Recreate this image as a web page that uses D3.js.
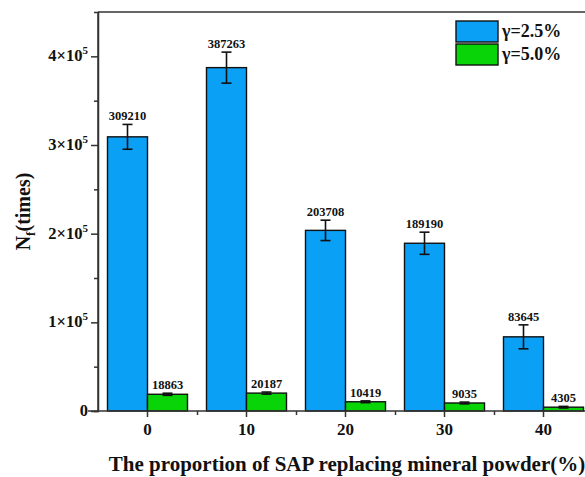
<!DOCTYPE html>
<html>
<head>
<meta charset="utf-8">
<script src="https://cdn.jsdelivr.net/npm/d3@7"></script>
<style>
  body { margin: 0; background: #fff; }
  text { font-family: "Liberation Serif", "Times New Roman", serif; font-weight: bold; }
</style>
</head>
<body>
<div id="chart"></div>
<script>
// data
const categories = ["0", "10", "20", "30", "40"];
const seriesNames = ["γ=2.5%", "γ=5.0%"];
const seriesColors = ["#0aa0f6", "#08d408"];
const valuesLow = [309210, 387263, 203708, 189190, 83645];   // γ=2.5%
const valuesHigh = [18863, 20187, 10419, 9035, 4305];        // γ=5.0%
const errLow = [14000, 17500, 11500, 12500, 13500];
const errHigh = [1200, 1200, 1000, 1000, 900];
const yTicks = [0, 100000, 200000, 300000, 400000];

const width = 585, height = 477;
const margin = { top: 12, left: 98, bottom: 66 };
const bandStep = 99;
const barW = 40;

const svg = d3.select("#chart").append("svg")
    .attr("width", width)
    .attr("height", height);

const x = d3.scaleBand()
    .domain(categories)
    .range([margin.left, margin.left + bandStep * categories.length])
    .padding(0);

const xSub = d3.scaleBand()
    .domain(seriesNames)
    .range([x.bandwidth() / 2 - barW, x.bandwidth() / 2 + barW]);

const y = d3.scaleLinear()
    .domain([0, 450000])
    .range([height - margin.bottom, margin.top]);

const rows = categories.map((c, i) => [
    { cat: c, s: seriesNames[0], v: valuesLow[i], e: errLow[i], col: seriesColors[0] },
    { cat: c, s: seriesNames[1], v: valuesHigh[i], e: errHigh[i], col: seriesColors[1] }
]).flat();

const axisColor = "#333";

// bars
svg.append("g").selectAll("rect")
    .data(rows)
    .join("rect")
    .attr("x", d => x(d.cat) + xSub(d.s))
    .attr("y", d => y(d.v))
    .attr("width", xSub.bandwidth())
    .attr("height", d => y(0) - y(d.v))
    .attr("fill", d => d.col)
    .attr("stroke", "#111")
    .attr("stroke-width", 1.4);

// error bars
const eb = svg.append("g").selectAll("g")
    .data(rows)
    .join("g")
    .attr("stroke", "#111")
    .attr("stroke-width", 1.6);
const cx = d => x(d.cat) + xSub(d.s) + xSub.bandwidth() / 2;
eb.append("line")
    .attr("x1", cx).attr("x2", cx)
    .attr("y1", d => y(d.v + d.e)).attr("y2", d => y(d.v - d.e));
eb.append("line")
    .attr("x1", d => cx(d) - 5).attr("x2", d => cx(d) + 5)
    .attr("y1", d => y(d.v + d.e)).attr("y2", d => y(d.v + d.e));
eb.append("line")
    .attr("x1", d => cx(d) - 5).attr("x2", d => cx(d) + 5)
    .attr("y1", d => y(d.v - d.e)).attr("y2", d => y(d.v - d.e));

// value labels
svg.append("g").selectAll("text")
    .data(rows)
    .join("text")
    .attr("x", cx)
    .attr("y", d => y(d.v + d.e) - 4)
    .attr("text-anchor", "middle")
    .attr("font-size", "12.5px")
    .attr("fill", "#111")
    .text(d => d.v);

// y axis
const yAxis = svg.append("g")
    .attr("transform", `translate(${margin.left},0)`)
    .call(d3.axisLeft(y).tickValues(yTicks).tickSize(7).tickFormat(""));
yAxis.append("g")
    .call(d3.axisLeft(y).tickValues(d3.range(50000, 450000, 100000)).tickSize(4).tickFormat(""));
yAxis.selectAll("path, line").attr("stroke", axisColor).attr("stroke-width", 1.5);
yAxis.select(".domain").attr("d", `M0,${y(0)}V${margin.top}`);

const yLab = svg.append("g").selectAll("text")
    .data(yTicks)
    .join("text")
    .attr("x", margin.left - 10)
    .attr("y", d => y(d) + 5)
    .attr("text-anchor", "end")
    .attr("font-size", "16.5px")
    .attr("fill", "#111");
yLab.filter(d => d === 0).text("0");
yLab.filter(d => d !== 0).each(function (d) {
    const t = d3.select(this);
    t.append("tspan").text(`${d / 100000}×10`);
    t.append("tspan").attr("dy", -7).attr("font-size", "11px").text("5");
});

// x axis
const xAxis = svg.append("g")
    .attr("transform", `translate(0,${y(0)})`)
    .call(d3.axisBottom(x).tickSize(6).tickPadding(6));
xAxis.append("g")
    .call(d3.axisBottom(d3.scaleLinear().domain([0, 5]).range(x.range()))
        .tickValues(d3.range(1, 5)).tickSize(4).tickFormat(""));
xAxis.selectAll("path, line").attr("stroke", axisColor).attr("stroke-width", 1.5);
xAxis.selectAll(".domain").filter((d, i) => i > 0).remove();
xAxis.select(".domain").attr("d", `M${margin.left - 10},0H${x.range()[1]}`);
xAxis.selectAll("text")
    .attr("font-size", "17px")
    .attr("fill", "#111")
    .attr("font-family", "Liberation Serif, serif");

// top frame line
svg.append("line")
    .attr("x1", margin.left).attr("x2", x.range()[1])
    .attr("y1", y.range()[1]).attr("y2", y.range()[1])
    .attr("stroke", axisColor).attr("stroke-width", 1.5);

// axis titles
svg.append("text")
    .attr("x", 347)
    .attr("y", 471)
    .attr("text-anchor", "middle")
    .attr("font-size", "21px")
    .attr("fill", "#111")
    .text("The proportion of SAP replacing mineral powder(%)");

const yt = svg.append("text")
    .attr("transform", `translate(30,${(y(0) + y.range()[1]) / 2}) rotate(-90)`)
    .attr("text-anchor", "middle")
    .attr("font-size", "20px")
    .attr("fill", "#111");
yt.append("tspan").text("N");
yt.append("tspan").attr("dy", 5).attr("font-size", "13px").text("f");
yt.append("tspan").attr("dy", -5).text("(times)");

// legend
const lg = svg.append("g").selectAll("g")
    .data(seriesNames)
    .join("g")
    .attr("transform", (d, i) => `translate(456,${21 + i * 23})`);
lg.append("rect")
    .attr("width", 42).attr("height", 21)
    .attr("fill", (d, i) => seriesColors[i])
    .attr("stroke", "#111").attr("stroke-width", 1.4);
lg.append("text")
    .attr("x", 46).attr("y", 16)
    .attr("font-size", "18px")
    .attr("fill", "#111")
    .text(d => d);
</script>
</body>
</html>
